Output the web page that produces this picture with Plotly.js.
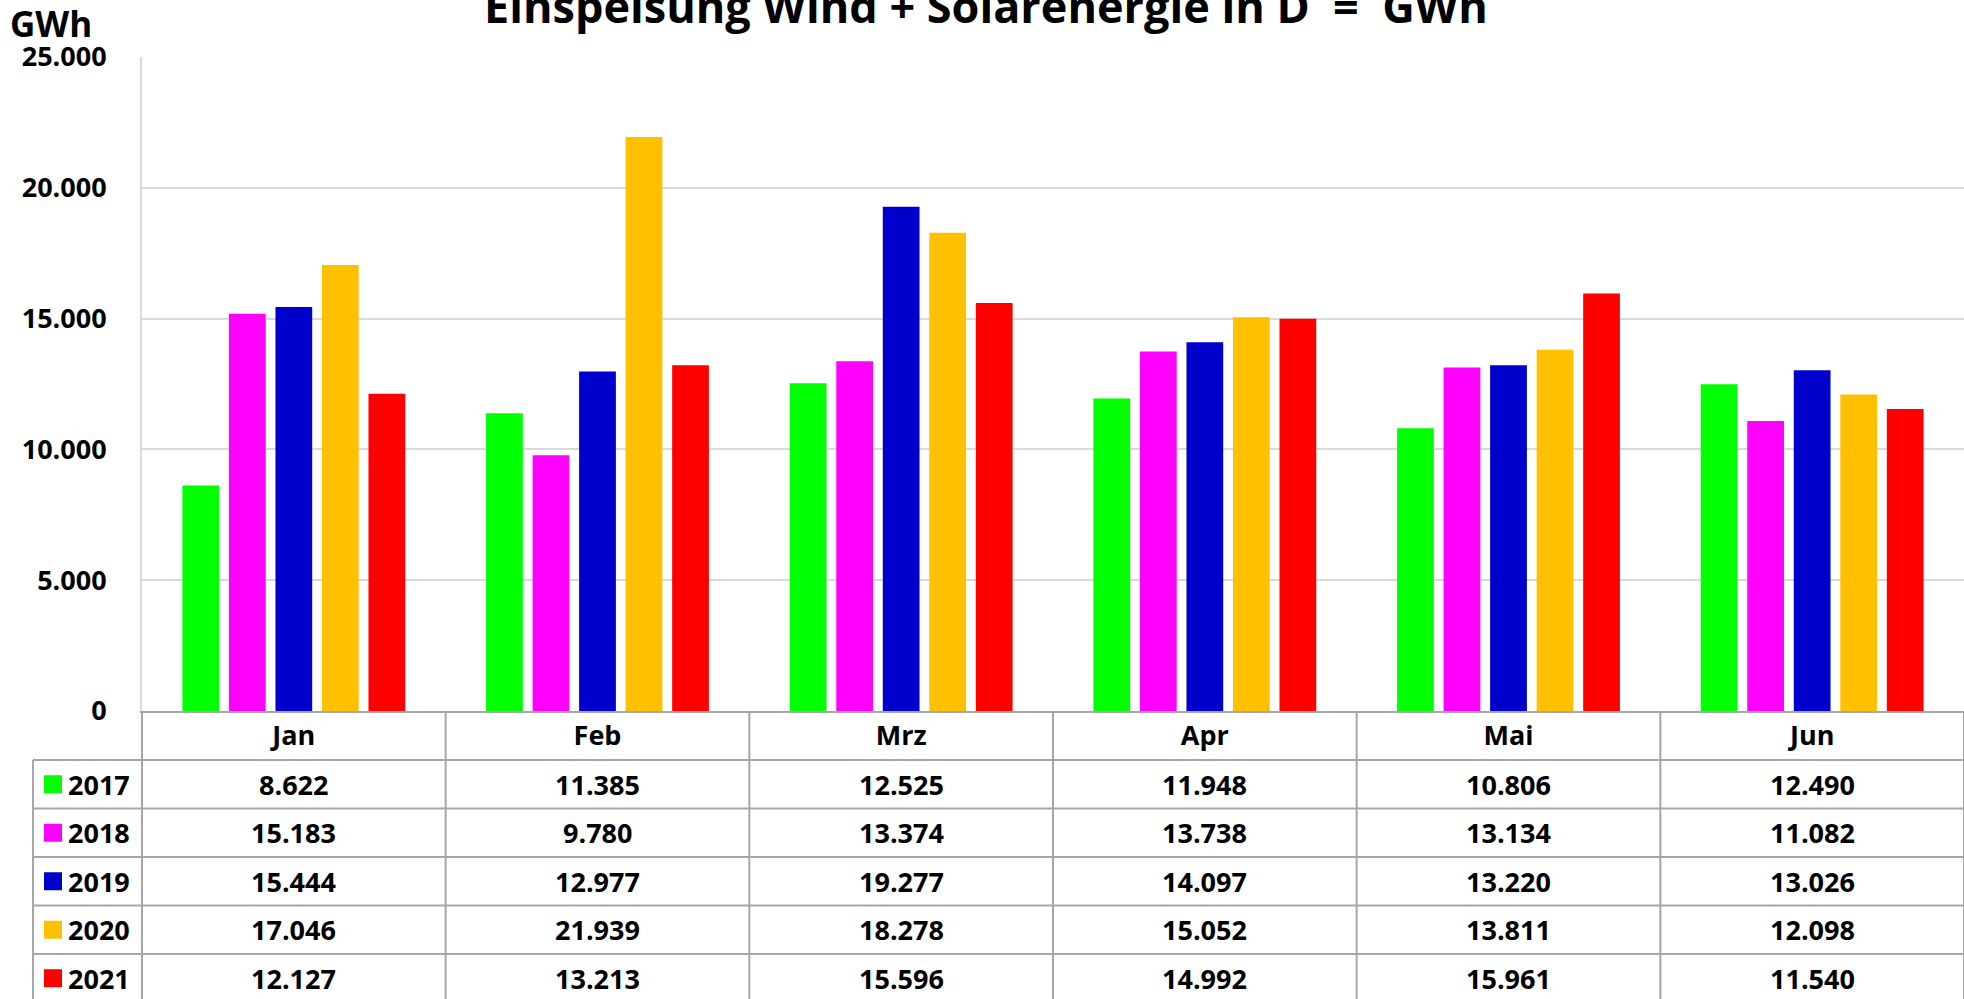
<!DOCTYPE html>
<html>
<head>
<meta charset="utf-8">
<script src="https://cdn.plot.ly/plotly-3.0.1.min.js"></script>
<style>
  html, body { margin: 0; padding: 0; background: #ffffff; }
  #chart { width: 1964px; height: 999px; }
</style>
</head>
<body>
<div id="chart"></div>
<script>
// ---- Data ----
const months = ['Jan', 'Feb', 'Mrz', 'Apr', 'Mai', 'Jun'];
const years = ['2017', '2018', '2019', '2020', '2021'];
const v2017 = [8622, 11385, 12525, 11948, 10806, 12490];
const v2018 = [15183, 9780, 13374, 13738, 13134, 11082];
const v2019 = [15444, 12977, 19277, 14097, 13220, 13026];
const v2020 = [17046, 21939, 18278, 15052, 13811, 12098];
const v2021 = [12127, 13213, 15596, 14992, 15961, 11540];
const colors = ['#00ff00', '#ff00ff', '#0000cc', '#ffc000', '#ff0000'];
const series = [v2017, v2018, v2019, v2020, v2021];

// ---- Layout constants ----
const W = 1964, H = 999;
const M = { l: 142, r: 0, t: 57, b: 288 };
const plotW = W - M.l - M.r;
const plotH = H - M.t - M.b;
const baseY = H - M.b;            // pixel y of the x axis
const xp = px => (px - M.l) / plotW;
const yp = py => (baseY - py) / plotH;

const headerH = 49, rowH = 48.5;
const tableLeft = 33, swatchLeft = 44, swatchSize = 18, yearLeft = 66;
const lineColor = '#a6a6a6';
const FONT = 'Open Sans, Lato, sans-serif';

const fmt = n => String(n).replace(/\B(?=(\d{3})+(?!\d))/g, '.');

// ---- Traces ----
const traces = series.map((vals, k) => ({
  type: 'bar',
  name: years[k],
  x: months,
  y: vals,
  marker: { color: colors[k], line: { width: 0 } },
  hoverinfo: 'x+y+name'
}));

// ---- Table shapes & annotations ----
const shapes = [];
const annotations = [];

// vertical month column lines
for (let i = 0; i <= months.length; i++) {
  shapes.push({
    type: 'line', xref: 'paper', yref: 'paper',
    x0: i / months.length, x1: i / months.length,
    y0: yp(baseY), y1: yp(H + 10),
    line: { color: lineColor, width: 2 }
  });
}
// horizontal row lines
for (let r = 0; r < years.length; r++) {
  const py = baseY + headerH + r * rowH;
  shapes.push({
    type: 'line', xref: 'paper', yref: 'paper',
    x0: xp(tableLeft), x1: 1,
    y0: yp(py), y1: yp(py),
    line: { color: lineColor, width: 2 }
  });
}
// left border of legend column
shapes.push({
  type: 'line', xref: 'paper', yref: 'paper',
  x0: xp(tableLeft), x1: xp(tableLeft),
  y0: yp(baseY + headerH), y1: yp(H + 10),
  line: { color: lineColor, width: 2 }
});

// rows: swatch, year, values
years.forEach((yr, r) => {
  const cy = baseY + headerH + r * rowH + rowH / 2;
  shapes.push({
    type: 'rect', xref: 'paper', yref: 'paper',
    x0: xp(swatchLeft), x1: xp(swatchLeft + swatchSize),
    y0: yp(cy - swatchSize / 2), y1: yp(cy + swatchSize / 2),
    fillcolor: colors[r], line: { width: 0 }
  });
  annotations.push({
    xref: 'paper', yref: 'paper', x: xp(yearLeft), y: yp(cy),
    xanchor: 'left', yanchor: 'middle', showarrow: false,
    text: yr, font: { family: FONT, size: 27, color: '#000', weight: 700 }
  });
  series[r].forEach((v, i) => {
    annotations.push({
      xref: 'paper', yref: 'paper', x: (i + 0.5) / months.length, y: yp(cy),
      xanchor: 'center', yanchor: 'middle', showarrow: false,
      text: fmt(v), font: { family: FONT, size: 27, color: '#000', weight: 700 }
    });
  });
});

// unit label
annotations.push({
  xref: 'paper', yref: 'paper', x: xp(8), y: yp(24),
  xanchor: 'left', yanchor: 'middle', showarrow: false,
  text: 'GWh', font: { family: FONT, size: 35, color: '#000', weight: 700 }
});

const layout = {
  width: W, height: H,
  margin: M,
  paper_bgcolor: '#ffffff', plot_bgcolor: '#ffffff',
  separators: ',.',
  showlegend: false,
  barmode: 'group',
  bargap: 0.234,
  bargroupgap: 0.21,
  title: {
    text: 'Einspeisung Wind + Solarenergie in D\u00a0 =\u00a0 GWh',
    font: { family: FONT, size: 45, color: '#000', weight: 700 },
    xref: 'container', x: 986 / W, xanchor: 'center',
    yref: 'container', y: 1 - 7 / H, yanchor: 'middle'
  },
  xaxis: {
    type: 'category',
    categoryorder: 'array', categoryarray: months,
    showgrid: false,
    showline: true, linecolor: lineColor, linewidth: 2,
    ticks: '', ticklabelstandoff: 0,
    tickfont: { family: FONT, size: 27, color: '#000', weight: 700 },
    zeroline: false, fixedrange: true
  },
  yaxis: {
    range: [0, 25000],
    dtick: 5000, tick0: 0,
    tickformat: ',d',
    showgrid: true, gridcolor: '#d9d9d9', gridwidth: 2,
    showline: true, linecolor: '#d9d9d9', linewidth: 2,
    zeroline: false,
    ticks: '', ticklabelstandoff: 28,
    tickfont: { family: FONT, size: 27, color: '#000', weight: 700 },
    fixedrange: true
  },
  shapes: shapes,
  annotations: annotations
};

Plotly.newPlot('chart', traces, layout, { displayModeBar: false, staticPlot: false });
</script>
</body>
</html>
